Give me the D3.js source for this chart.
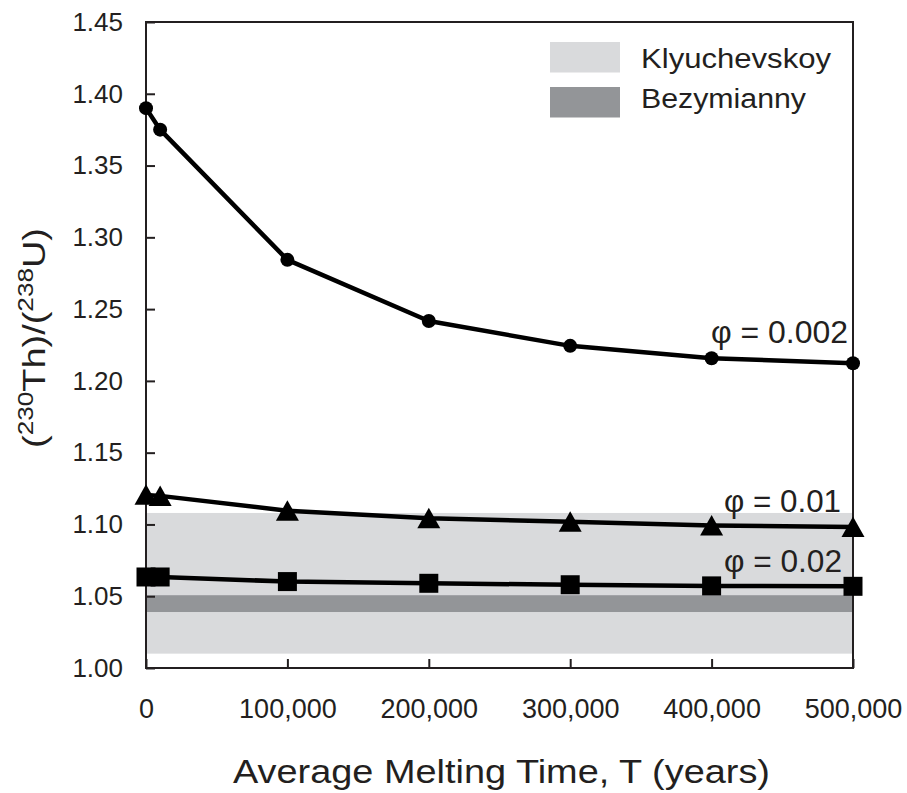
<!DOCTYPE html>
<html>
<head>
<meta charset="utf-8">
<script src="https://cdn.jsdelivr.net/npm/d3@7"></script>
<style>
  html, body { margin: 0; padding: 0; background: #fff; }
  svg text { font-family: "Liberation Sans", Arial, Helvetica, sans-serif; fill: #231f20; }
</style>
</head>
<body>
<svg id="chart" width="907" height="793"></svg>
<script>
// Melting times (years) at which the models were evaluated
const meltTimes = [0, 10000, 100000, 200000, 300000, 400000, 500000];

// (230Th)/(238U) for each porosity
const phi0002 = [1.390, 1.375, 1.2843, 1.2417, 1.2244, 1.2158, 1.2123];
const phi001 = [1.1206, 1.1199, 1.1096, 1.1043, 1.1019, 1.0993, 1.0983];
const phi002 = [1.0634, 1.0634, 1.0602, 1.0590, 1.0580, 1.0572, 1.0569];

const seriesNames = ["φ = 0.002", "φ = 0.01", "φ = 0.02"];
const seriesMarkers = ["circle", "triangle", "square"];

// Observed ranges of the two volcanoes
const rangeNames = ["Klyuchevskoy", "Bezymianny"];
const rangeLow = [1.010, 1.039];
const rangeHigh = [1.108, 1.0507];
const rangeColors = ["#d9dadc", "#939598"];

const xTicks = [0, 100000, 200000, 300000, 400000, 500000];
const yTicks = [1.00, 1.05, 1.10, 1.15, 1.20, 1.25, 1.30, 1.35, 1.40, 1.45];

const svg = d3.select("#chart");
const plotLeft = 146, plotRight = 853, plotTop = 22, plotBottom = 668;

const x = d3.scaleLinear().domain([0, 500000]).range([plotLeft, plotRight]);
const y = d3.scaleLinear().domain([1.00, 1.45]).range([plotBottom, plotTop]);

// shaded ranges
svg.append("g").selectAll("rect")
  .data(rangeNames.map((n, i) => ({ name: n, lo: rangeLow[i], hi: rangeHigh[i], color: rangeColors[i] })))
  .join("rect")
  .attr("x", x(0))
  .attr("width", x(500000) - x(0))
  .attr("y", d => y(d.hi))
  .attr("height", d => y(d.lo) - y(d.hi))
  .attr("fill", d => d.color);

// axes (ticks point inward)
const yAxis = svg.append("g")
  .attr("transform", `translate(${plotLeft},0)`)
  .call(d3.axisLeft(y).tickValues(yTicks).tickFormat(d3.format(".2f"))
    .tickSizeInner(-9).tickSizeOuter(0).tickPadding(23));
const xAxis = svg.append("g")
  .attr("transform", `translate(0,${plotBottom})`)
  .call(d3.axisBottom(x).tickValues(xTicks).tickFormat(d3.format(","))
    .tickSizeInner(-9).tickSizeOuter(0).tickPadding(31));
[yAxis, xAxis].forEach(g => {
  g.select(".domain").remove();
  g.selectAll(".tick line").attr("stroke", "#231f20").attr("stroke-width", 2);
  g.selectAll(".tick text").attr("fill", "#231f20")
    .style("font-family", "'Liberation Sans', Arial, sans-serif");
});
yAxis.selectAll(".tick text").attr("font-size", 26);
xAxis.selectAll(".tick text").attr("font-size", 27);

// plot frame
svg.append("rect")
  .attr("x", plotLeft).attr("y", plotTop)
  .attr("width", plotRight - plotLeft).attr("height", plotBottom - plotTop)
  .attr("fill", "none").attr("stroke", "#231f20").attr("stroke-width", 2);

// series
const series = [phi0002, phi001, phi002].map((vals, i) => ({
  name: seriesNames[i],
  marker: seriesMarkers[i],
  points: meltTimes.map((t, j) => ({ t, v: vals[j] }))
}));

const line = d3.line().x(d => x(d.t)).y(d => y(d.v));

const sg = svg.append("g");
series.forEach(s => {
  sg.append("path")
    .attr("d", line(s.points))
    .attr("fill", "none")
    .attr("stroke", "#000")
    .attr("stroke-width", 4.5)
    .attr("stroke-linejoin", "round");

  const m = sg.append("g").selectAll("path")
    .data(s.points).join("path")
    .attr("transform", d => `translate(${x(d.t)},${y(d.v)})`)
    .attr("fill", "#000");
  if (s.marker === "circle") {
    m.attr("d", d3.symbol(d3.symbolCircle, Math.PI * 7 * 7)());
  } else if (s.marker === "square") {
    m.attr("d", "M-9.5,-9.5H9.5V9.5H-9.5Z");
  } else {
    m.attr("d", "M0,-10.5L11.5,10L-11.5,10Z");
  }
});

// series labels
const labelX = [848, 841, 842];
const labelY = [343, 512, 572];
const labelW = [137, 117, 118];
series.forEach((s, i) => {
  svg.append("text")
    .attr("x", labelX[i] - labelW[i]).attr("y", labelY[i])
    .attr("font-size", 31)
    .attr("textLength", labelW[i])
    .attr("lengthAdjust", "spacingAndGlyphs")
    .text(s.name);
});

// legend
const lg = svg.append("g");
rangeNames.forEach((n, i) => {
  lg.append("rect")
    .attr("x", 550).attr("y", 42 + i * 45)
    .attr("width", 70).attr("height", 30.5)
    .attr("fill", rangeColors[i]);
  lg.append("text")
    .attr("x", 641).attr("y", 67.5 + i * 40)
    .attr("font-size", 27)
    .attr("textLength", i === 0 ? 190 : 165)
    .attr("lengthAdjust", "spacingAndGlyphs")
    .text(n);
});

// axis titles
svg.append("text")
  .attr("x", 233).attr("y", 783)
  .attr("font-size", 34)
  .attr("textLength", 537)
  .attr("lengthAdjust", "spacingAndGlyphs")
  .text("Average Melting Time, T (years)");

const yt = svg.append("text")
  .attr("transform", "translate(45,448) rotate(-90)")
  .attr("font-size", 32)
  .attr("textLength", 220)
  .attr("lengthAdjust", "spacingAndGlyphs");
yt.append("tspan").text("(");
yt.append("tspan").attr("font-size", 22).attr("dy", -12).text("230");
yt.append("tspan").attr("dy", 12).text("Th)/(");
yt.append("tspan").attr("font-size", 22).attr("dy", -12).text("238");
yt.append("tspan").attr("dy", 12).text("U)");
</script>
</body>
</html>
